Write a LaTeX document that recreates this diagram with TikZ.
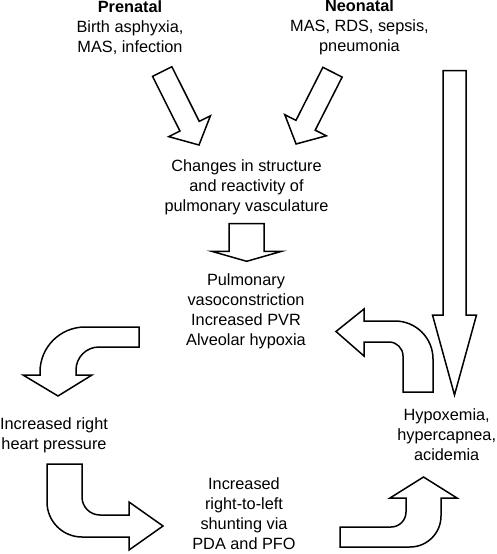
\documentclass[tikz,border=0pt]{standalone}
\usepackage{fontspec}
\setmainfont{Liberation Sans}
\usepackage{tikz}
\usetikzlibrary{positioning, calc}
\tikzset{
  stage/.style={align=center, inner sep=0pt,
                font=\fontsize{16.3}{20}\selectfont},
  blockarrow/.style={draw=black, fill=white, line width=1.5pt,
                     line join=miter}
}
% straight block arrow: tail, angle, length, shaft/2, head/2, head length
\newcommand{\fatarrow}[6]{%
  \begin{scope}[shift={#1}, rotate=#2]
    \draw[blockarrow] (0,-#4) -- ({#3-#6},-#4) -- ({#3-#6},-#5) -- (#3,0)
      -- ({#3-#6},#5) -- ({#3-#6},#4) -- (0,#4) -- cycle;
  \end{scope}
}

\begin{document}
\begin{tikzpicture}[x=1pt, y=-1pt]
        \useasboundingbox (0,0) rectangle (497,554);
        \node[stage] (prenatal) at (130,27.5)
          {\textbf{Prenatal}\\Birth asphyxia,\\MAS, infection};
        \node[stage] (neonatal) at (359.5,27.5)
          {\textbf{Neonatal}\\MAS, RDS, sepsis,\\pneumonia};
        \node[stage] (changes) at (246.5,187)
          {Changes in structure\\and reactivity of\\pulmonary vasculature};
        \node[stage] (pvr) at (246,311)
          {Pulmonary\\vasoconstriction\\Increased PVR\\Alveolar hypoxia};
        \node[stage] (heart) at (54,435) {Increased right\\heart pressure};
        \node[stage] (hypox) at (446.7,434.5)
          {Hypoxemia,\\hypercapnea,\\acidemia};
        \node[stage] (shunt) at (244,514)
          {Increased\\right-to-left\\shunting via\\PDA and PFO};
        % straight arrows
        \fatarrow{(162.2,71.5)}{-63.4}{82.2}{10.8}{23.3}{21}
        \fatarrow{(332.5,72.2)}{-116.9}{80.5}{10.8}{23.3}{21}
        \fatarrow{(246.7,223.7)}{-90}{37.6}{17.5}{35}{10}
        \fatarrow{(454.5,70.5)}{-90}{324.5}{11.5}{22}{80}
        % curved arrows
        \draw[blockarrow] (139,327) -- (85,327)
          arc[start angle=270, end angle=180, radius=45] -- (40,375)
          -- (23,375) -- (58,396) -- (92,375) -- (76,375) -- (76,370)
          arc[start angle=180, end angle=270, radius=23] -- (139,347) -- cycle;
        \draw[blockarrow] (403,392) -- (403,356)
          arc[start angle=0, end angle=-90, radius=14] -- (364,342)
          -- (364,356) -- (336,331.5) -- (364,309) -- (364,321) -- (395,321)
          arc[start angle=-90, end angle=0, radius=38] -- (433,392) -- cycle;
        \draw[blockarrow] (47,464) -- (47,502)
          arc[start angle=180, end angle=90, radius=35] -- (129,537)
          -- (129,550) -- (163,526) -- (129,502) -- (129,515) -- (100,515)
          arc[start angle=90, end angle=180, radius=18] -- (82,464) -- cycle;
        \draw[blockarrow] (340,527) -- (391,527)
          arc[start angle=90, end angle=0, radius=15] -- (406,498)
          -- (390,498) -- (423.5,477) -- (457,498) -- (441,498) -- (441,516)
          arc[start angle=0, end angle=90, radius=31] -- (340,547) -- cycle;
      \end{tikzpicture}
\end{document}
